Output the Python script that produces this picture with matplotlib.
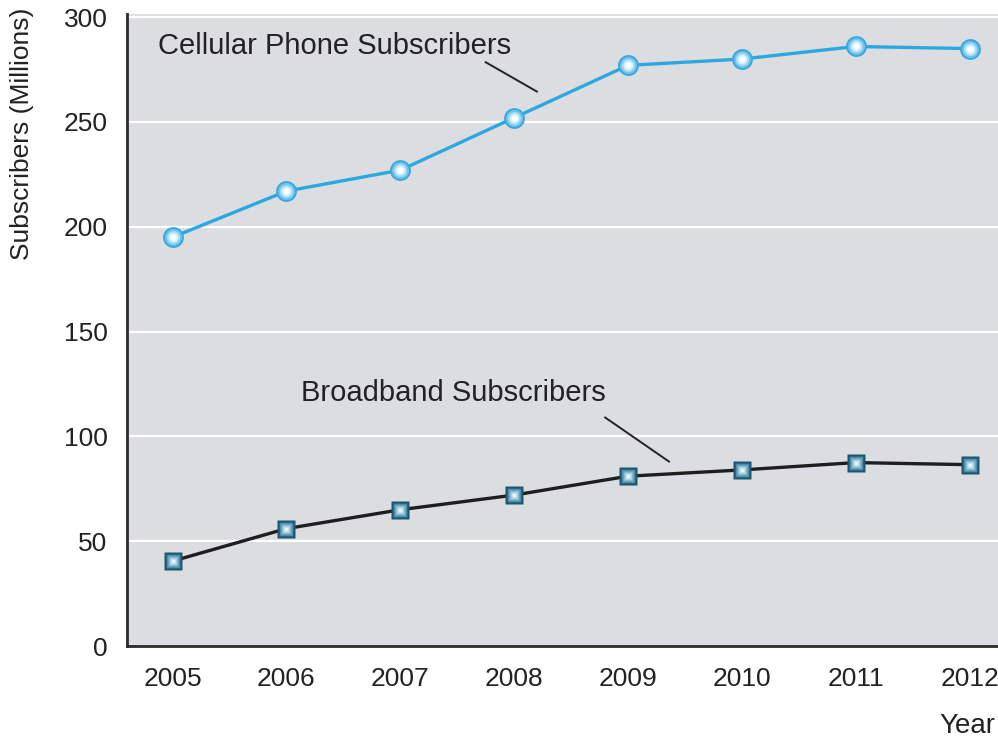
import numpy as np
import matplotlib.pyplot as plt

plt.rcParams['font.family'] = ['Liberation Sans', 'DejaVu Sans']

years = [2005, 2006, 2007, 2008, 2009, 2010, 2011, 2012]
cellular = [195, 217, 227, 252, 277, 280, 286, 285]
broadband = [40.5, 56, 65, 72, 81, 84, 87.5, 86.5]
yticks = [0, 50, 100, 150, 200, 250, 300]

fig = plt.figure(figsize=(9.98, 7.38), dpi=100)
ax = fig.add_axes([127/998, 1 - 646/738, 871/998, (646 - 14)/738])
ax.set_facecolor('#dcdde0')

ax.set_xlim(2004.6, 2012.25)
ax.set_ylim(0, 301.5)

for y in yticks[1:]:
    ax.axhline(y, color='white', lw=1.6, zorder=1)

# lines
ax.plot(years, cellular, color='#2aa9e0', lw=2.4, zorder=2)
ax.plot(years, broadband, color='#1e1e1e', lw=2.4, zorder=2)

# shaded markers: stack shrinking, lighter markers for a glossy look
blues = ['#3aa8dc', '#6cc3ec', '#a4dcf7', '#d8f1fd', '#ffffff']
for i, c in enumerate(blues):
    ax.plot(years, cellular, 'o', ms=15 - i * 2.7, color=c, mec='none', zorder=3 + i)
teals = ['#1d5670', '#387a94', '#6aa4bc', '#a8d0e0', '#e6f5fb']
for i, c in enumerate(teals):
    ax.plot(years, broadband, 's', ms=13 - i * 2.4, color=c, mec='none', zorder=3 + i)

# series labels with leader lines
ax.text(2004.87, 286, 'Cellular Phone Subscribers', fontsize=21, color='#222222', va='center', ha='left')
ax.plot([2007.75, 2008.2], [278.5, 264.5], color='#222222', lw=1.4)
ax.text(2006.13, 120.5, 'Broadband Subscribers', fontsize=21, color='#222222', va='center', ha='left')
ax.plot([2008.8, 2009.36], [109, 88], color='#222222', lw=1.4)

ax.set_xticks(years)
ax.set_yticks(yticks)
ax.tick_params(length=0, labelsize=19, colors='#222222')
ax.tick_params(axis='x', pad=15)
ax.tick_params(axis='y', pad=14)

for s in ['top', 'right']:
    ax.spines[s].set_visible(False)
for s in ['left', 'bottom']:
    ax.spines[s].set_linewidth(2)
    ax.spines[s].set_color('#2a2a2a')

fig.text(22/998, 1 - 8/738, 'Subscribers (Millions)', rotation=90, fontsize=19,
         color='#222222', ha='center', va='top')
fig.text(995/998, 1 - 726/738, 'Year', fontsize=20, color='#222222', ha='right', va='center')

fig.savefig('out.png', dpi=100, facecolor='white')
